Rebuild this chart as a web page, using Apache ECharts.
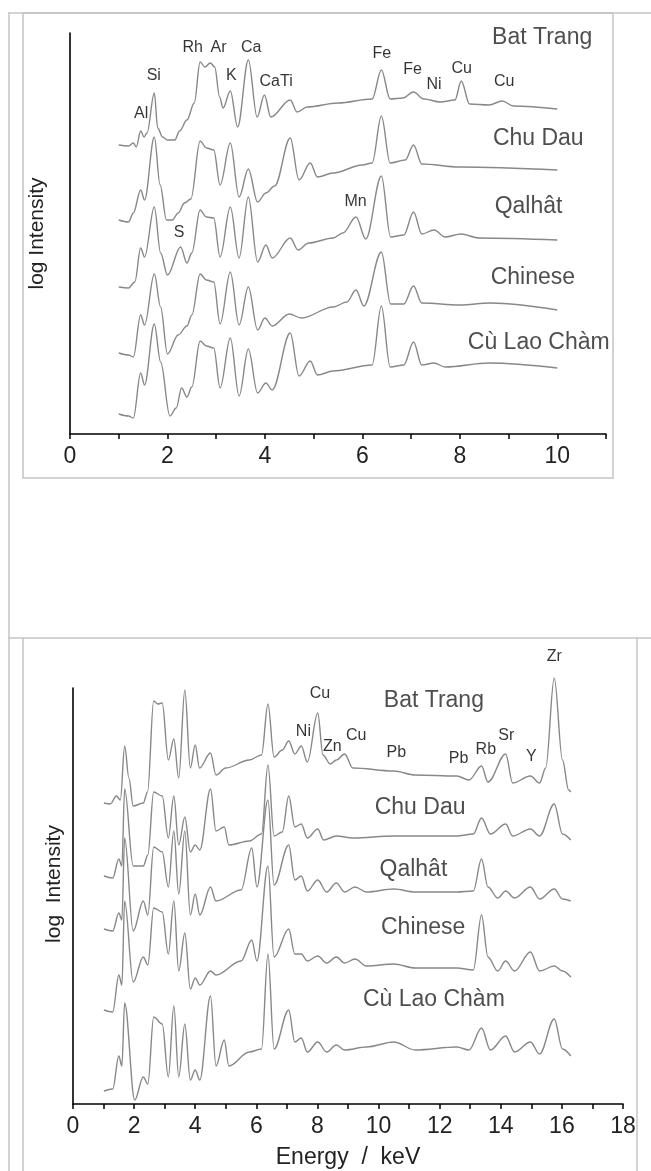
<!DOCTYPE html>
<html><head><meta charset="utf-8">
<script src="https://cdn.jsdelivr.net/npm/echarts/dist/echarts.min.js"></script>
<style>html,body{margin:0;padding:0;background:#fff}#c{width:651px;height:1171px}</style>
</head><body><div id="c"></div>
<script>
// ---- data (energy keV, log intensity in arbitrary offset units) ----
const sampleNames = ['Bat Trang', 'Chu Dau', 'Qalhât', 'Chinese', 'Cù Lao Chàm'];
const topTickLabels = [0, 2, 4, 6, 8, 10];
const bottomTickLabels = [0, 2, 4, 6, 8, 10, 12, 14, 16, 18];

const topBatTrang = [[1.00,289],[1.2,288],[1.3,291],[1.36,287],[1.45,303],[1.52,297],[1.58,301],[1.73,341],[1.8,306],[1.9,297],[2.0,294],[2.15,294],[2.25,303],[2.4,314],[2.55,331],[2.67,372],[2.77,367],[2.88,371],[2.97,367],[3.07,337],[3.14,326],[3.29,343],[3.44,307],[3.66,374],[3.84,317],[3.99,339],[4.12,317],[4.52,334],[4.66,322],[4.87,327],[5.5,331],[6.2,335],[6.39,364],[6.57,335],[6.83,336],[7.05,342],[7.26,335],[7.6,332],[7.9,334],[8.03,353],[8.2,330],[8.6,329],[8.87,333],[9.1,328],[10.0,325]];
const topChuDau = [[1.0,214],[1.2,212],[1.3,221],[1.45,244],[1.53,234],[1.73,297],[1.85,249],[1.98,214],[2.1,214],[2.22,221],[2.35,231],[2.48,235],[2.67,293],[2.8,286],[2.95,284],[3.08,249],[3.29,291],[3.47,237],[3.66,265],[3.85,232],[4.02,241],[4.2,248],[4.52,296],[4.7,254],[4.93,271],[5.08,257],[5.4,261],[6.0,269],[6.2,271],[6.39,318],[6.57,271],[6.88,274],[7.05,289],[7.22,270],[8.0,267],[10.0,264]];
const topQalhat = [[1.0,147],[1.2,146],[1.33,152],[1.45,186],[1.53,177],[1.73,227],[1.86,181],[2.0,159],[2.27,187],[2.4,171],[2.5,181],[2.67,224],[2.8,217],[2.95,216],[3.08,177],[3.29,227],[3.47,176],[3.66,237],[3.85,172],[4.02,189],[4.15,176],[4.52,196],[4.68,184],[4.9,191],[5.4,196],[5.6,201],[5.87,217],[6.07,195],[6.39,258],[6.58,197],[6.85,199],[7.05,222],[7.22,200],[7.47,204],[7.7,197],[8.02,200],[8.4,196],[10.0,194]];
const topChinese = [[1.0,81],[1.2,79],[1.3,77],[1.45,119],[1.53,109],[1.73,160],[1.86,127],[2.0,80],[2.22,99],[2.4,108],[2.5,119],[2.67,160],[2.8,154],[2.95,152],[3.08,110],[3.29,162],[3.47,109],[3.66,147],[3.85,104],[4.0,116],[4.15,108],[4.5,120],[4.75,116],[5.4,127],[5.68,132],[5.87,144],[6.03,128],[6.39,182],[6.58,130],[6.85,130],[7.05,148],[7.22,131],[8.0,129],[8.63,131],[10.0,124]];
const topCuLaoCham = [[1.0,20],[1.2,18],[1.3,16],[1.45,61],[1.53,49],[1.73,110],[1.86,72],[2.05,18],[2.18,26],[2.29,46],[2.4,37],[2.5,47],[2.67,93],[2.8,88],[2.95,86],[3.08,46],[3.29,96],[3.47,38],[3.66,85],[3.85,41],[4.02,51],[4.15,44],[4.52,101],[4.7,58],[4.93,73],[5.08,59],[5.4,63],[6.2,69],[6.39,128],[6.57,67],[6.85,69],[7.05,92],[7.22,69],[7.47,71],[7.7,67],[8.6,71],[10.0,66]];

const botBatTrang = [[1.01,301],[1.22,300],[1.42,308],[1.55,304],[1.69,358],[1.83,326],[1.97,298],[2.3,301],[2.44,312],[2.64,403],[2.78,400],[2.92,401],[3.12,344],[3.3,365],[3.46,326],[3.66,414],[3.84,336],[4.0,359],[4.14,336],[4.5,351],[4.68,329],[5.0,336],[5.77,344],[6.17,349],[6.38,400],[6.58,347],[6.85,354],[7.06,363],[7.26,350],[7.47,358],[7.67,342],[8.01,391],[8.18,349],[8.42,340],[8.62,344],[8.89,350],[9.16,336],[10.5,333],[11.2,329],[12.56,328],[12.96,324],[13.37,338],[13.58,322],[14.16,350],[14.39,321],[14.97,328],[15.27,321],[15.47,336],[15.75,426],[16.02,344],[16.22,314],[16.29,312]];
const botChuDau = [[1.01,228],[1.3,226],[1.5,245],[1.6,238],[1.69,315],[1.97,238],[2.3,238],[2.45,249],[2.64,312],[2.92,308],[3.12,266],[3.3,308],[3.46,259],[3.66,287],[3.84,252],[4.0,259],[4.15,254],[4.5,315],[4.68,273],[4.95,277],[5.1,259],[5.77,263],[6.17,270],[6.38,339],[6.58,268],[6.85,272],[7.06,308],[7.26,277],[7.47,280],[7.67,266],[8.01,275],[8.2,264],[8.62,268],[9.16,266],[10.5,268],[12.56,268],[13.1,270],[13.37,286],[13.66,270],[14.16,280],[14.39,268],[14.97,275],[15.27,268],[15.75,300],[16.02,270],[16.29,264]];
const botQalhat = [[1.01,175],[1.3,173],[1.5,191],[1.6,184],[1.69,266],[1.97,173],[2.3,203],[2.45,189],[2.64,257],[2.92,252],[3.12,217],[3.3,273],[3.46,210],[3.66,273],[3.84,189],[4.0,210],[4.15,189],[4.5,217],[4.68,203],[5.5,214],[5.85,256],[6.02,217],[6.38,304],[6.58,219],[7.06,259],[7.26,224],[7.47,228],[7.67,213],[8.01,224],[8.3,212],[8.62,221],[8.89,212],[9.23,217],[9.6,212],[10.5,215],[11.2,212],[12.56,212],[13.1,213],[13.37,245],[13.58,217],[13.9,206],[14.16,213],[14.45,206],[14.97,217],[15.27,205],[15.75,215],[16.02,205],[16.29,203]];
const botChinese = [[1.01,94],[1.3,92],[1.5,129],[1.6,119],[1.69,203],[1.97,122],[2.3,147],[2.45,139],[2.64,196],[2.92,192],[3.12,150],[3.3,203],[3.46,133],[3.66,171],[3.84,115],[4.0,126],[4.15,119],[4.5,133],[4.68,129],[5.5,143],[5.85,164],[6.02,143],[6.38,238],[6.58,147],[7.06,175],[7.26,150],[7.47,150],[7.67,143],[8.01,148],[8.3,141],[8.62,147],[8.89,141],[9.23,145],[9.6,138],[10.5,140],[11.2,136],[12.56,136],[13.1,134],[13.37,189],[13.58,147],[13.9,133],[14.16,143],[14.45,133],[14.97,152],[15.27,133],[15.75,138],[16.02,133],[16.29,127]];
const botCuLaoCham = [[1.01,13],[1.3,15],[1.5,48],[1.6,38],[1.69,101],[2.02,4],[2.3,27],[2.45,20],[2.64,87],[2.92,80],[3.12,27],[3.3,98],[3.46,27],[3.66,80],[3.84,24],[4.0,34],[4.15,24],[4.5,108],[4.68,38],[4.95,64],[5.1,38],[5.77,52],[6.17,55],[6.38,150],[6.58,55],[7.06,94],[7.26,62],[7.47,66],[7.67,52],[8.01,62],[8.3,52],[8.62,59],[8.89,54],[9.6,57],[10.5,62],[11.2,54],[12.56,57],[12.96,54],[13.37,76],[13.66,54],[14.16,68],[14.45,52],[14.97,62],[15.27,50],[15.75,85],[16.02,55],[16.29,48]];

// annotation positions [energy, level, text]
const topSampleLabels = [[9.69,396,'Bat Trang'],[9.61,295,'Chu Dau'],[9.41,227,'Qalhât'],[9.5,156,'Chinese'],[9.62,91,'Cù Lao Chàm']];
const topPeakLabels = [[2.52,386,'Rh'],[3.05,386,'Ar'],[3.72,386,'Ca'],[1.72,358,'Si'],[3.31,358,'K'],[4.23,352,'CaTi'],[1.46,320,'Al'],[6.4,380,'Fe'],[7.03,364,'Fe'],[7.47,349,'Ni'],[8.04,365,'Cu'],[8.91,352,'Cu'],[5.86,232,'Mn'],[2.24,201,'S']];
const botSampleLabels = [[11.81,403,'Bat Trang'],[11.36,296,'Chu Dau'],[11.14,234,'Qalhât'],[11.46,176,'Chinese'],[11.81,104,'Cù Lao Chàm']];
const botPeakLabels = [[15.75,447,'Zr'],[8.08,410,'Cu'],[7.54,372,'Ni'],[8.49,357,'Zn'],[9.27,368,'Cu'],[10.58,351,'Pb'],[12.62,345,'Pb'],[13.51,354,'Rb'],[14.18,368,'Sr'],[15.0,347,'Y']];

// ---- chart ----
const FONT = '"Liberation Sans", Arial, sans-serif';
const chart = echarts.init(document.getElementById('c'), null, {renderer: 'canvas'});

function spec(data, gi) {
  return {type: 'line', xAxisIndex: gi, yAxisIndex: gi, data: data, showSymbol: false, smooth: 0.35,
    smoothMonotone: 'x', clip: false, silent: true,
    lineStyle: {color: '#888888', width: 1.4}};
}
function labels(arr, gi, size, color) {
  return {type: 'scatter', xAxisIndex: gi, yAxisIndex: gi, symbolSize: 0, silent: true, clip: false,
    data: arr.map(d => ({value: [d[0], d[1]], name: d[2]})),
    label: {show: true, position: 'inside', formatter: p => p.name, color: color, fontFamily: FONT,
      fontSize: size, align: 'center', verticalAlign: 'middle'}};
}
function xAx(gi, max, ticks) {
  return {type: 'value', gridIndex: gi, min: 0, max: max, interval: 1,
    axisLine: {lineStyle: {color: '#000', width: 1.6}},
    axisTick: {show: true, inside: false, length: 5, lineStyle: {color: '#000', width: 1.5}},
    axisLabel: {margin: 11, fontSize: 23, color: '#222', fontFamily: FONT,
      formatter: v => ticks.indexOf(v) >= 0 ? String(v) : ''},
    splitLine: {show: false}};
}
function yAx(gi, max, name, gap, pad) {
  return {type: 'value', gridIndex: gi, min: 0, max: max,
    axisLine: {show: true, lineStyle: {color: '#000', width: 1.6}},
    axisTick: {show: false}, axisLabel: {show: false}, splitLine: {show: false},
    name: name, nameLocation: 'middle', nameGap: gap, nameRotate: 90,
    nameTextStyle: {fontSize: 21, color: '#222', fontFamily: FONT, padding: pad}};
}

const lineCol = '#c4c4c4';
const option = {
  animation: false,
  backgroundColor: '#fff',
  grid: [
    {left: 70, top: 33, width: 536, height: 401},
    {left: 73, top: 688, width: 550, height: 416}
  ],
  xAxis: [xAx(0, 11, topTickLabels),
    Object.assign(xAx(1, 18, bottomTickLabels), {name: 'Energy  /  keV', nameLocation: 'middle', nameGap: 42,
      nameTextStyle: {fontSize: 23, color: '#222', fontFamily: FONT}})],
  yAxis: [yAx(0, 401, 'log Intensity', 22, [0, 0, 0, 0]), yAx(1, 416, 'log  Intensity', 8, [0, 0, 0, 24])],
  graphic: [
    {type: 'line', shape: {x1: 9, y1: 13, x2: 9, y2: 1171}, style: {stroke: lineCol, lineWidth: 1.5}},
    {type: 'line', shape: {x1: 8, y1: 13, x2: 651, y2: 13}, style: {stroke: lineCol, lineWidth: 1.5}},
    {type: 'rect', shape: {x: 23, y: 13, width: 590, height: 465}, style: {fill: 'none', stroke: lineCol, lineWidth: 1.5}},
    {type: 'line', shape: {x1: 8, y1: 638, x2: 651, y2: 638}, style: {stroke: lineCol, lineWidth: 1.5}},
    {type: 'line', shape: {x1: 23, y1: 638, x2: 23, y2: 1171}, style: {stroke: lineCol, lineWidth: 1.5}},
    {type: 'line', shape: {x1: 637, y1: 638, x2: 637, y2: 1171}, style: {stroke: lineCol, lineWidth: 1.5}}
  ],
  series: [
    spec(topBatTrang, 0), spec(topChuDau, 0), spec(topQalhat, 0), spec(topChinese, 0), spec(topCuLaoCham, 0),
    spec(botBatTrang, 1), spec(botChuDau, 1), spec(botQalhat, 1), spec(botChinese, 1), spec(botCuLaoCham, 1),
    labels(topSampleLabels, 0, 23, '#222'), labels(topPeakLabels, 0, 16, '#000'),
    labels(botSampleLabels, 1, 23, '#222'), labels(botPeakLabels, 1, 16, '#000')
  ]
};
chart.setOption(option);
</script></body></html>
